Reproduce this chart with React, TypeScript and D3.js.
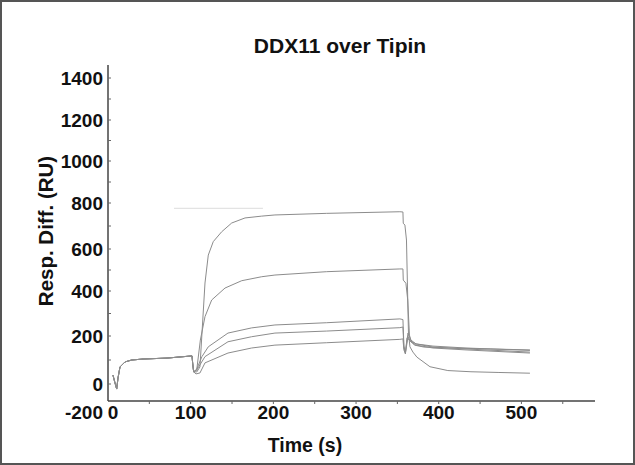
import React from "react";
import * as d3 from "d3";

// shared pre-injection part of every sensorgram: [time s, RU]
const baseline: [number, number][] = [
  [6, 37], [8.2, 8], [10.5, -36], [12.1, 25], [14.5, 71], [20.6, 92], [28.7, 100],
  [42.3, 104], [71.3, 108], [101.6, 117], [102.5, 83], [103.6, 51],
];

const curveA: [number, number][] = [
  [107.3, 50], [111.2, 71], [117.3, 438], [121.3, 571], [127.3, 632], [137.5, 675],
  [149.6, 713], [165.7, 735], [185.9, 743], [201.9, 748], [264.5, 755], [353, 762],
  [356.7, 761], [357.1, 712], [359.1, 704], [361, 639], [363.4, 213], [365.2, 155],
  [368.8, 133], [373.6, 112], [389.4, 72], [411, 56], [439, 51], [472.8, 48], [510.3, 45],
];
const curveB: [number, number][] = [
  [107.3, 58], [111.7, 183], [117.3, 286], [125.4, 360], [141.5, 414], [161.7, 449],
  [185.9, 468], [201.9, 476], [264.5, 492], [353, 505], [356.7, 505], [357.1, 452],
  [360.3, 437], [362.5, 360], [364.6, 204], [366.4, 179], [370.6, 162], [382, 154],
  [412.2, 150], [463, 146], [510.3, 142],
];
const curveC: [number, number][] = [
  [107.3, 62], [113.6, 114], [121.3, 155], [145.1, 213], [173.7, 236], [201.9, 249],
  [264.5, 259], [353, 276], [356.7, 273], [357.9, 158], [359.7, 133], [362.8, 213],
  [366.4, 183], [372.5, 167], [393, 154], [433, 146], [510.3, 133],
];
const curveD: [number, number][] = [
  [107.3, 58], [117.3, 114], [145.1, 176], [173.7, 197], [201.9, 213], [264.5, 222],
  [353, 237], [356.7, 240], [357.9, 150], [359.7, 129], [362.8, 196], [366.4, 175],
  [372.5, 162], [393, 150], [433, 142], [510.3, 129],
];
const curveE: [number, number][] = [
  [106.4, 42], [111.2, 46], [117.3, 88], [145.1, 129], [173.7, 150], [201.9, 162],
  [264.5, 172], [353, 186], [356.7, 188], [357.9, 142], [359.7, 125], [361.6, 192],
  [365.8, 179], [372.5, 167], [393, 158], [433, 150], [510.3, 140],
];
const curves = [curveA, curveB, curveC, curveD, curveE];

// faint reference line near the top plateau
const guideLine: [number, number][] = [[79.8, 777], [187.4, 777]];

const yTickLabels = [-200, 0, 200, 400, 600, 800, 1000, 1200, 1400];
const xTickLabels = [0, 100, 200, 300, 400, 500];

const W = 635;
const H = 465;
const plotLeft = 108;
const plotRight = 595;
const plotTop = 65;
const plotBottom = 401;

export default function App() {
  const x = d3.scaleLinear().domain([0, 589]).range([plotLeft, plotRight]);
  // the scanned axis is slightly uneven, so map through each labelled value
  const y = d3
    .scaleLinear()
    .domain(yTickLabels)
    .range([412, 384, 336, 291, 249, 203, 161, 120, 78]);

  const line = d3
    .line<[number, number]>()
    .x((d) => x(d[0]))
    .y((d) => y(d[1]));

  const yMinor = d3.range(0, 1401, 100);
  const xMinor = d3.range(50, 590, 50);
  const font = "'Liberation Sans', Arial, sans-serif";

  return (
    <svg
      width={W}
      height={H}
      style={{ position: "absolute", left: 0, top: 0, background: "#fff" }}
      fontFamily={font}
    >
      <rect x={1} y={1} width={W - 2} height={H - 2} fill="#fff" stroke="#555" strokeWidth={2} />

      <text x={340} y={53} textAnchor="middle" fontSize={21} fontWeight="bold" fill="#111">
        DDX11 over Tipin
      </text>

      {/* axes */}
      <line x1={plotLeft} x2={plotLeft} y1={plotTop} y2={plotBottom} stroke="#444" strokeWidth={1.5} />
      <line x1={plotLeft} x2={plotRight} y1={plotBottom} y2={plotBottom} stroke="#444" strokeWidth={1.5} />

      {yMinor.map((v) => (
        <line key={"yt" + v} x1={plotLeft} x2={plotLeft + 3} y1={y(v)} y2={y(v)} stroke="#666" strokeWidth={1} />
      ))}
      {xMinor.map((v) => (
        <line key={"xt" + v} x1={x(v)} x2={x(v)} y1={plotBottom} y2={plotBottom + 3} stroke="#666" strokeWidth={1} />
      ))}

      {yTickLabels.map((v) => (
        <text
          key={"yl" + v}
          x={103}
          y={y(v)}
          dy="0.35em"
          textAnchor="end"
          fontSize={19}
          fontWeight="bold"
          fill="#111"
        >
          {v}
        </text>
      ))}
      {xTickLabels.map((v) => (
        <text
          key={"xl" + v}
          x={Math.max(x(v), plotLeft + 5)}
          y={419}
          textAnchor="middle"
          fontSize={19}
          fontWeight="bold"
          fill="#111"
        >
          {v}
        </text>
      ))}

      <text x={305} y={452} textAnchor="middle" fontSize={19.5} fontWeight="bold" fill="#111">
        Time (s)
      </text>
      <text
        transform={`translate(53, 231) rotate(-90)`}
        textAnchor="middle"
        fontSize={20.5}
        fontWeight="bold"
        fill="#111"
      >
        Resp. Diff. (RU)
      </text>

      <path d={line(guideLine) || ""} fill="none" stroke="#dcdcdc" strokeWidth={1} />

      {curves.map((c, i) => (
        <path
          key={"c" + i}
          d={line([...baseline, ...c]) || ""}
          fill="none"
          stroke="#8c8c8c"
          strokeWidth={1}
          strokeLinejoin="round"
        />
      ))}
    </svg>
  );
}
